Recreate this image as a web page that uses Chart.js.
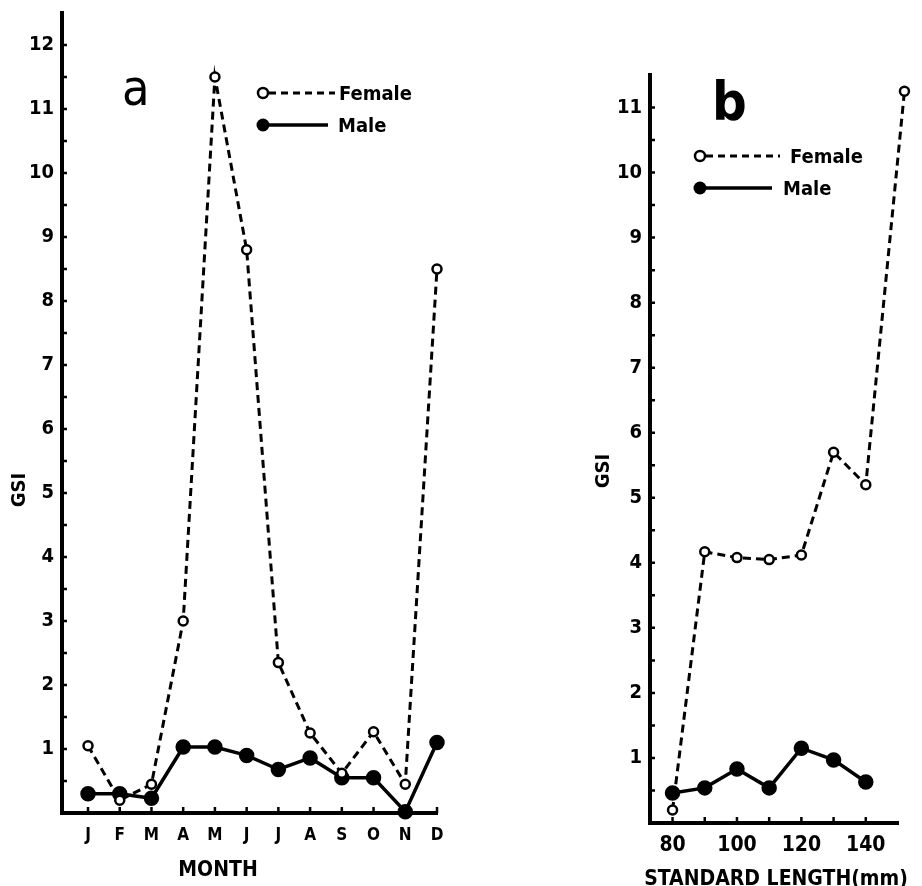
<!DOCTYPE html>
<html>
<head>
<meta charset="utf-8">
<script src="https://cdn.jsdelivr.net/npm/chart.js@4.4.0/dist/chart.umd.min.js"></script>
<style>
    body { margin: 0; background: #fff; width: 922px; height: 886px; position: relative; overflow: hidden; }
    .box { position: absolute; top: 0; height: 886px; }
    #boxA { left: 0; width: 470px; }
    #boxB { left: 560px; width: 362px; }
</style>
</head>
<body>
<div class="box" id="boxA"><canvas id="chartA"></canvas></div>
<div class="box" id="boxB"><canvas id="chartB"></canvas></div>
<script>
// Данные: панель a (по месяцам)
const months = ['J', 'F', 'M', 'A', 'M', 'J', 'J', 'A', 'S', 'O', 'N', 'D'];
const femaleMonth = [1.05, 0.2, 0.45, 3.0, 11.5, 8.8, 2.35, 1.25, 0.62, 1.27, 0.45, 8.5];
const maleMonth = [0.3, 0.3, 0.23, 1.03, 1.03, 0.9, 0.68, 0.86, 0.55, 0.55, 0.02, 1.1];
const gsiLabelsA = [1, 2, 3, 4, 5, 6, 7, 8, 9, 10, 11, 12];

// Данные: панель b (по длине тела)
const lengthLabels = [80, 100, 120, 140];
const lengthTicks = [80, 90, 100, 110, 120, 130, 140];
const femaleLength = [80, 90, 100, 110, 120, 130, 140, 152];
const femaleLenGsi = [0.2, 4.17, 4.08, 4.05, 4.12, 5.7, 5.2, 11.25];
const maleLength = [80, 90, 100, 110, 120, 130, 140];
const maleLenGsi = [0.46, 0.54, 0.83, 0.54, 1.15, 0.97, 0.63];
const gsiLabelsB = [1, 2, 3, 4, 5, 6, 7, 8, 9, 10, 11];

const FONT = "'DejaVu Sans Condensed', 'Liberation Sans Narrow', 'DejaVu Sans', sans-serif";
Chart.defaults.font.family = FONT;
Chart.defaults.color = '#000';

// Подписи, легенда, внутренние засечки и заголовки осей
const annotPlugin = {
    id: 'annot',
    beforeDatasetsDraw(chart) {
        // засечки внутрь области графика
        const ctx = chart.ctx;
        const area = chart.chartArea;
        ctx.save();
        ctx.strokeStyle = '#000';
        ctx.lineWidth = 2.5;
        ctx.beginPath();
        chart.scales.y.ticks.forEach(t => {
            const py = chart.scales.y.getPixelForValue(t.value);
            ctx.moveTo(area.left, py);
            ctx.lineTo(area.left + 5, py);
        });
        chart.scales.x.ticks.forEach(t => {
            const px = chart.scales.x.getPixelForValue(t.value);
            ctx.moveTo(px, area.bottom);
            ctx.lineTo(px, area.bottom - 6);
        });
        ctx.stroke();
        ctx.restore();
    },
    afterDraw(chart, args, o) {
        const ctx = chart.ctx;
        ctx.save();
        ctx.fillStyle = '#000';
        ctx.strokeStyle = '#000';
        ctx.textBaseline = 'alphabetic';
        ctx.textAlign = 'left';
        ctx.font = o.letterFont;
        ctx.fillText(o.letter, o.letterX, o.letterY);

        // легенда
        const lg = o.legend;
        ctx.lineWidth = 3;
        ctx.setLineDash([7, 5]);
        ctx.beginPath();
        ctx.moveTo(lg.x + 6, lg.y1);
        ctx.lineTo(lg.fEnd, lg.y1);
        ctx.stroke();
        ctx.setLineDash([]);
        ctx.lineWidth = 3.5;
        ctx.beginPath();
        ctx.moveTo(lg.x, lg.y2);
        ctx.lineTo(lg.mEnd, lg.y2);
        ctx.stroke();
        ctx.beginPath();
        ctx.lineWidth = 2.5;
        ctx.fillStyle = '#fff';
        ctx.arc(lg.x, lg.y1, 5, 0, Math.PI * 2);
        ctx.fill();
        ctx.stroke();
        ctx.fillStyle = '#000';
        ctx.beginPath();
        ctx.arc(lg.x, lg.y2, 6.5, 0, Math.PI * 2);
        ctx.fill();
        ctx.font = 'bold 20px ' + FONT;
        ctx.textBaseline = 'middle';
        ctx.fillText('Female', lg.fText, lg.y1 + 2);
        ctx.fillText('Male', lg.mText, lg.y2 + 2);

        // заголовки осей
        ctx.font = o.xTitleFont;
        ctx.textAlign = 'center';
        ctx.fillText(o.xTitle, o.xTitleX, o.xTitleY);
        ctx.translate(o.yTitleX, o.yTitleY);
        ctx.rotate(-Math.PI / 2);
        ctx.font = 'bold 20px ' + FONT;
        ctx.fillText('GSI', 0, 0);
        ctx.restore();
    }
};

function yScale(max, labels) {
    return {
        type: 'linear',
        min: 0,
        max: max,
        afterBuildTicks: s => {
            const t = [];
            for (let v = 0; v < max; v += 0.5) t.push({ value: v });
            s.ticks = t;
        },
        afterFit: s => {
            s.width = s.chart.options.yWidth;
            s.paddingTop = 0;
        },
        ticks: {
            autoSkip: false,
            padding: 8,
            font: { size: 20, weight: 'bold' },
            callback: v => labels.includes(v) ? String(v) : ''
        },
        grid: { drawOnChartArea: false, drawTicks: false },
        border: { color: '#000', width: 4 }
    };
}

const femaleStyle = {
    borderColor: '#000',
    borderWidth: 3,
    borderDash: [8, 5],
    pointRadius: 4.5,
    pointBorderWidth: 2.5,
    pointBackgroundColor: '#fff',
    pointBorderColor: '#000',
    clip: false
};
const maleStyle = {
    borderColor: '#000',
    borderWidth: 3.5,
    pointRadius: 6,
    pointBackgroundColor: '#000',
    pointBorderColor: '#000',
    clip: false
};

// Панель a
new Chart(document.getElementById('chartA').getContext('2d'), {
    type: 'line',
    data: {
        datasets: [
            { label: 'Female', data: femaleMonth.map((v, i) => ({ x: i + 1, y: v })), ...femaleStyle },
            { label: 'Male', data: maleMonth.map((v, i) => ({ x: i + 1, y: v })), ...maleStyle }
        ]
    },
    plugins: [annotPlugin],
    options: {
        responsive: true,
        maintainAspectRatio: false,
        animation: false,
        yWidth: 62,
        layout: { padding: { top: 13, right: 33, left: 0, bottom: 0 } },
        plugins: {
            legend: { display: false },
            tooltip: { enabled: false },
            annot: {
                letter: 'a', letterFont: '50px ' + FONT, letterX: 122, letterY: 105,
                legend: { x: 263, y1: 93, y2: 125, fEnd: 335, mEnd: 328, fText: 339, mText: 338 },
                xTitle: 'MONTH', xTitleFont: 'bold 21px ' + FONT, xTitleX: 218, xTitleY: 871,
                yTitleX: 20, yTitleY: 490
            }
        },
        scales: {
            x: {
                type: 'linear',
                min: 0.18,
                max: 12,
                afterBuildTicks: s => { s.ticks = months.map((m, i) => ({ value: i + 1 })); },
                afterFit: s => { s.height = 73; },
                ticks: {
                    autoSkip: false,
                    maxRotation: 0,
                    padding: 12,
                    font: { size: 17, weight: 'bold' },
                    callback: (v, i) => months[i]
                },
                grid: { drawOnChartArea: false, drawTicks: false },
                border: { color: '#000', width: 4 }
            },
            y: yScale(12.5, gsiLabelsA)
        }
    }
});

// Панель b
new Chart(document.getElementById('chartB').getContext('2d'), {
    type: 'line',
    data: {
        datasets: [
            { label: 'Female', data: femaleLength.map((x, i) => ({ x: x, y: femaleLenGsi[i] })), ...femaleStyle },
            { label: 'Male', data: maleLength.map((x, i) => ({ x: x, y: maleLenGsi[i] })), ...maleStyle }
        ]
    },
    plugins: [annotPlugin],
    options: {
        responsive: true,
        maintainAspectRatio: false,
        animation: false,
        yWidth: 90,
        layout: { padding: { top: 75, right: 24, left: 0, bottom: 0 } },
        plugins: {
            legend: { display: false },
            tooltip: { enabled: false },
            annot: {
                letter: 'b', letterFont: 'bold 54px ' + FONT, letterX: 152, letterY: 120,
                legend: { x: 140, y1: 156, y2: 188, fEnd: 220, mEnd: 212, fText: 230, mText: 223 },
                xTitle: 'STANDARD LENGTH(mm)', xTitleFont: 'bold 21px ' + FONT, xTitleX: 216, xTitleY: 880,
                yTitleX: 44, yTitleY: 471
            }
        },
        scales: {
            x: {
                type: 'linear',
                min: 73,
                max: 150,
                afterBuildTicks: s => { s.ticks = lengthTicks.map(v => ({ value: v })); },
                afterFit: s => { s.height = 63; },
                ticks: {
                    autoSkip: false,
                    maxRotation: 0,
                    padding: 10,
                    font: { size: 21, weight: 'bold' },
                    callback: v => lengthLabels.includes(v) ? String(v) : ''
                },
                grid: { drawOnChartArea: false, drawTicks: false },
                border: { color: '#000', width: 4 }
            },
            y: yScale(11.5, gsiLabelsB)
        }
    }
});
</script>
</body>
</html>
